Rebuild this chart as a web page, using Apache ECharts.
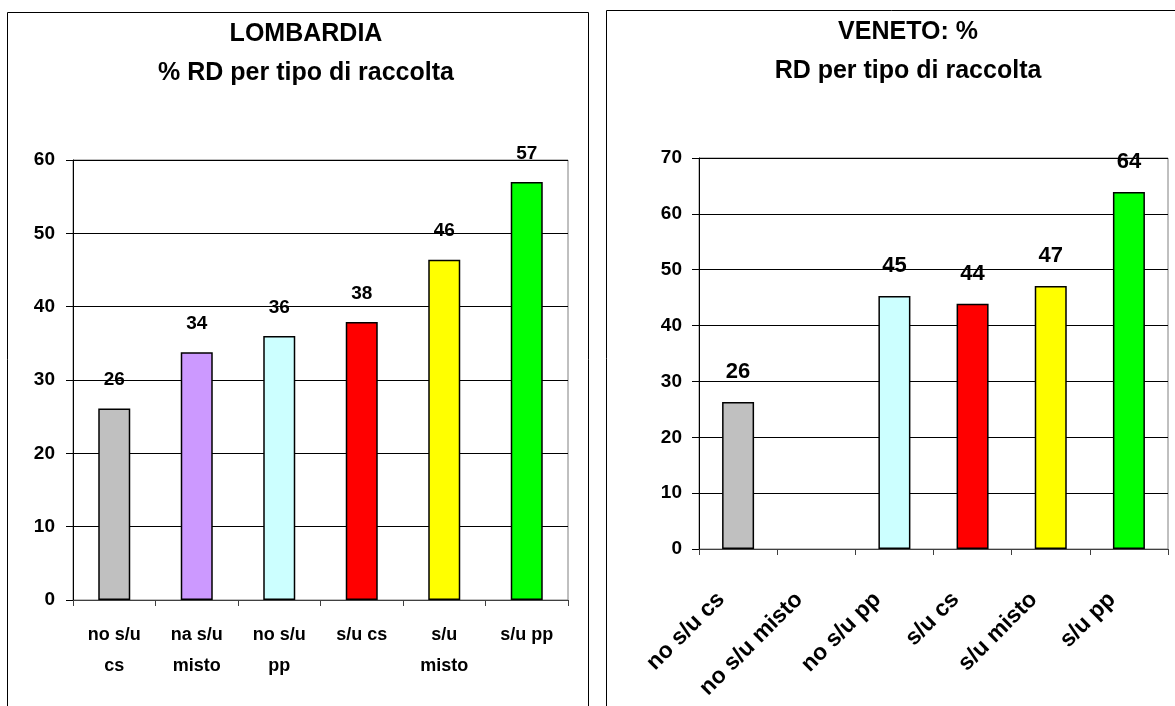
<!DOCTYPE html>
<html>
<head>
<meta charset="utf-8">
<script src="https://cdn.jsdelivr.net/npm/echarts@6/dist/echarts.min.js"></script>
<style>
html,body{margin:0;padding:0;background:#fff;}
#c{width:1175px;height:706px;}
</style>
</head>
<body>
<div id="c"></div>
<script>
// ---- data ----
const lombCategories = ['no s/u\ncs', 'na s/u\nmisto', 'no s/u\npp', 's/u cs', 's/u\nmisto', 's/u pp'];
const lombValues = [26.1, 33.8, 36.0, 37.9, 46.4, 57.0];
const lombTicks = [0, 10, 20, 30, 40, 50, 60];

const venCategories = ['no s/u cs', 'no s/u misto', 'no s/u pp', 's/u cs', 's/u misto', 's/u pp'];
const venValues = [26.3, null, 45.3, 43.9, 47.1, 63.9];
const venTicks = [0, 10, 20, 30, 40, 50, 60, 70];

const barColors = ['#C0C0C0', '#CC99FF', '#CCFFFF', '#FF0000', '#FFFF00', '#00FF00'];

// ---- chart ----
const FONT = '"Liberation Sans", Arial, sans-serif';
const chart = echarts.init(document.getElementById('c'), null, {renderer: 'canvas'});

function yAxisCfg(gridIndex, ticks, fontSize, margin) {
  return {
    type: 'value', gridIndex: gridIndex,
    min: ticks[0], max: ticks[ticks.length - 1], interval: ticks[1] - ticks[0],
    axisLine: {show: true, lineStyle: {color: '#000', width: 1}},
    axisTick: {show: true, length: 7, lineStyle: {color: '#000'}},
    axisLabel: {color: '#000', fontFamily: FONT, fontWeight: 'bold', fontSize: fontSize, margin: margin},
    splitLine: {show: true, lineStyle: {color: '#000', width: 1}}
  };
}

function barSeries(idx, values, labelSize) {
  return {
    type: 'bar', xAxisIndex: idx, yAxisIndex: idx,
    barWidth: 32,
    data: values,
    itemStyle: {
      color: p => barColors[p.dataIndex],
      borderColor: '#000', borderWidth: 1.5
    },
    label: {
      show: true, position: 'top', distance: 19,
      color: '#000', fontFamily: FONT, fontWeight: 'bold', fontSize: labelSize,
      formatter: p => (p.value == null ? '' : String(Math.round(p.value)))
    },
    z: 3
  };
}

const option = {
  backgroundColor: '#fff',
  animation: false,
  title: [
    {text: 'LOMBARDIA\n% RD per tipo di raccolta', left: 301, top: 10, textAlign: 'center',
     textStyle: {fontFamily: FONT, fontWeight: 'bold', fontSize: 25, lineHeight: 39, color: '#000'}},
    {text: 'VENETO: %\nRD per tipo di raccolta', left: 903, top: 8, textAlign: 'center',
     textStyle: {fontFamily: FONT, fontWeight: 'bold', fontSize: 25, lineHeight: 39, color: '#000'}}
  ],
  graphic: [
    {type: 'rect', shape: {x: 7.5, y: 12.5, width: 581, height: 720}, style: {fill: 'none', stroke: '#000', lineWidth: 1}, z: 0},
    {type: 'rect', shape: {x: 606.5, y: 10.5, width: 600, height: 720}, style: {fill: 'none', stroke: '#000', lineWidth: 1}, z: 0}
  ],
  grid: [
    {left: 73, top: 160, width: 495, height: 440, show: true, borderColor: '#808080', borderWidth: 1, backgroundColor: 'transparent'},
    {left: 699, top: 158, width: 469, height: 391, show: true, borderColor: '#808080', borderWidth: 1, backgroundColor: 'transparent'}
  ],
  xAxis: [
    {type: 'category', gridIndex: 0, data: lombCategories,
     axisLine: {show: true, lineStyle: {color: '#404040'}},
     axisTick: {show: true, length: 6, lineStyle: {color: '#404040'}},
     axisLabel: {color: '#000', fontFamily: FONT, fontWeight: 'bold', fontSize: 18, lineHeight: 31, margin: 20, interval: 0}},
    {type: 'category', gridIndex: 1, data: venCategories,
     axisLine: {show: true, lineStyle: {color: '#404040'}},
     axisTick: {show: true, length: 6, lineStyle: {color: '#404040'}},
     axisLabel: {color: '#000', fontFamily: FONT, fontWeight: 'bold', fontSize: 23, rotate: 45, margin: 30,
                 padding: [0, 24, 0, 0], interval: 0}}
  ],
  yAxis: [yAxisCfg(0, lombTicks, 19, 18), yAxisCfg(1, venTicks, 19, 17)],
  series: [barSeries(0, lombValues, 19), barSeries(1, venValues, 22)]
};
chart.setOption(option);
</script>
</body>
</html>
